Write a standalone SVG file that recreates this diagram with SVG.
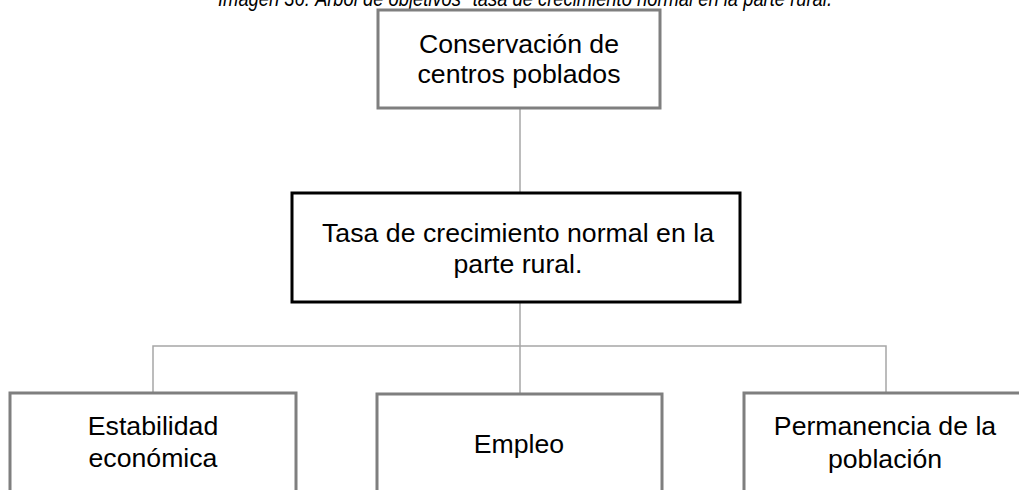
<svg xmlns="http://www.w3.org/2000/svg" width="1019" height="490" viewBox="0 0 1019 490">
<style>
.t{font-family:"Liberation Sans",Arial,sans-serif;font-size:26.67px;fill:#000;text-anchor:middle}
.title{font-family:"Liberation Sans",Arial,sans-serif;font-size:22px;font-style:italic;fill:#000;text-anchor:middle}
.gbox{fill:#fff;stroke:#7f7f7f;stroke-width:3}
.bbox{fill:#fff;stroke:#000;stroke-width:3}
.conn{fill:none;stroke:#a6a6a6;stroke-width:1.5}
</style>
<rect width="1019" height="490" fill="#fff"/>
<text class="title" x="525" y="6" textLength="614" lengthAdjust="spacingAndGlyphs">Imagen 36: Árbol de objetivos "tasa de crecimiento normal en la parte rural.</text>
<g id="connectors">
<line class="conn" x1="520" y1="108" x2="520" y2="193"/>
<line class="conn" x1="520" y1="302" x2="520" y2="393"/>
<polyline class="conn" points="153,393 153,346 886,346 886,393"/>
</g>
<g id="node-top">
<rect class="gbox" x="378" y="10" width="282" height="98"/>
<text class="t" x="519" y="53">Conservación de</text>
<text class="t" x="519" y="83">centros poblados</text>
</g>
<g id="node-middle">
<rect class="bbox" x="292" y="193" width="448" height="109"/>
<text class="t" x="518" y="242" textLength="392" lengthAdjust="spacing">Tasa de crecimiento normal en la</text>
<text class="t" x="518" y="273">parte rural.</text>
</g>
<g id="node-left">
<rect class="gbox" x="10" y="393" width="286" height="110"/>
<text class="t" x="153" y="435">Estabilidad</text>
<text class="t" x="153" y="467">económica</text>
</g>
<g id="node-center">
<rect class="gbox" x="377" y="394" width="285" height="110"/>
<text class="t" x="519" y="453">Empleo</text>
</g>
<g id="node-right">
<rect class="gbox" x="744" y="393" width="285" height="110"/>
<text class="t" x="885" y="435">Permanencia de la</text>
<text class="t" x="885" y="468">población</text>
</g>
</svg>
